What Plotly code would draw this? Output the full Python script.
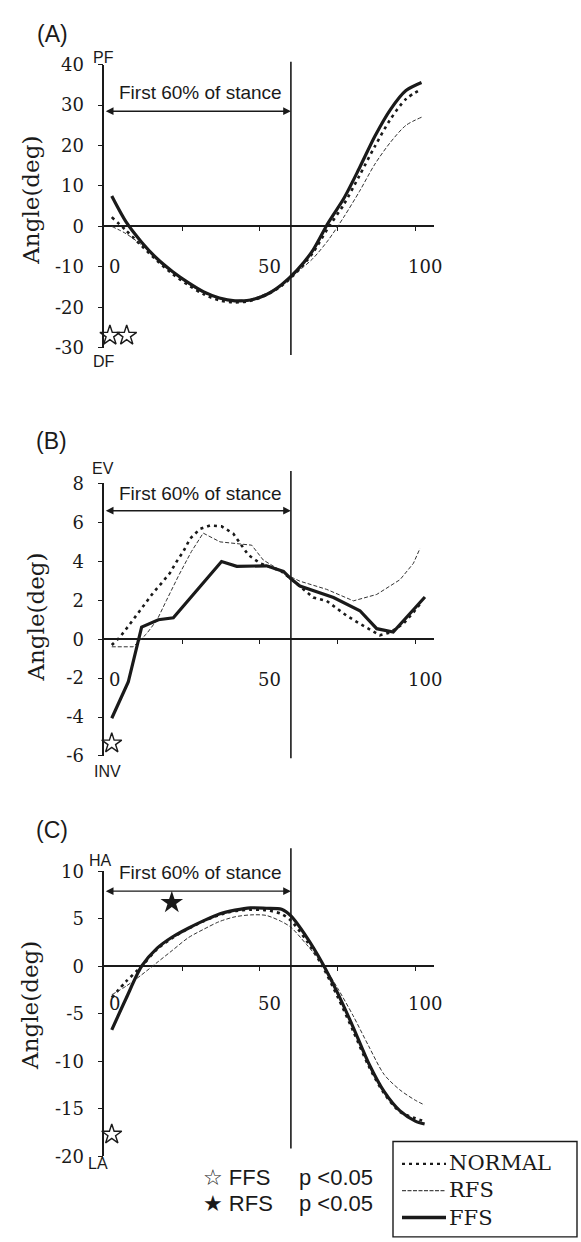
import plotly.graph_objects as go

W, H = 581, 1242

# ---------------- data ----------------
# Panel A (sagittal: PF/DF)
A_X = [2.4, 7, 12, 17, 22, 27, 32, 37, 42, 47, 52, 57, 62, 67, 72, 77, 82, 87, 92, 97, 102]
A_FFS = [7.5, 1.1, -3.9, -8.0, -11.2, -13.9, -16.2, -17.7, -18.4, -18.2, -16.9, -14.4, -10.8, -6.0, 0.9, 6.9, 14.4, 22.3, 28.9, 33.6, 35.6]
A_NORMAL = [2.3, -1.0, -4.8, -8.5, -11.8, -14.5, -16.8, -18.3, -18.8, -18.4, -17.0, -14.7, -11.2, -6.6, -0.3, 5.4, 12.5, 19.8, 26.5, 31.5, 34.0]
A_RFS = [0.0, -1.8, -4.6, -8.2, -11.4, -14.2, -16.5, -17.9, -18.3, -18.0, -16.6, -14.4, -11.3, -8.0, -3.4, 2.3, 8.6, 15.4, 20.8, 25.0, 27.0]
A_STAR_FFS_X = [1.8, 7.2]
A_STAR_FFS_Y = [-27.0, -27.0]

# Panel B (frontal: EV/INV)
B_FFS_X = [2.4, 5, 7.7, 12, 17.4, 22.2, 37.7, 42.6, 52.2, 57.6, 60, 62.9, 73.7, 82.2, 87.6, 92.9, 103.1]
B_FFS = [-4.06, -3.15, -2.2, 0.62, 1.0, 1.1, 3.99, 3.74, 3.77, 3.48, 3.1, 2.73, 2.14, 1.46, 0.54, 0.37, 2.17]
B_NORMAL_X = [2.4, 5, 8.3, 13.1, 15.8, 18.5, 21.1, 23.3, 25.4, 27.6, 30.8, 34, 37.7, 41.5, 46.3, 50.1, 56.8, 60, 67.2, 71.5, 77.9, 82.2, 88.6, 92, 96.1, 99.4, 102]
B_NORMAL = [-0.3, 0.1, 0.79, 1.8, 2.4, 2.9, 3.4, 4.0, 4.5, 5.17, 5.67, 5.84, 5.8, 5.42, 4.33, 3.9, 3.5, 3.1, 2.14, 1.97, 1.21, 0.79, 0.2, 0.35, 0.79, 1.38, 1.9]
B_RFS_X = [2.4, 9.3, 13.6, 17, 20, 24, 28, 31.8, 37.2, 43.6, 47.4, 51.1, 56, 60, 62.9, 71.5, 80.1, 87.6, 95.1, 99.4, 101.5]
B_RFS = [-0.39, -0.39, 0.28, 1.0, 2.0, 3.3, 4.5, 5.45, 5.0, 4.91, 4.83, 4.07, 3.6, 3.2, 2.98, 2.56, 1.97, 2.3, 3.06, 3.9, 4.66]
B_STAR_FFS_X = [2.4]
B_STAR_FFS_Y = [-5.35]

# Panel C (transverse: HA/LA)
C_X = [2.4, 7, 12, 17, 22, 27, 32, 37, 42, 47, 52, 57, 60, 65, 70, 75, 80, 85, 90, 95, 100, 103]
C_FFS = [-6.7, -3.4, 0.0, 1.9, 3.1, 4.0, 4.8, 5.5, 5.9, 6.15, 6.1, 6.0, 5.3, 3.1, 0.4, -2.8, -6.4, -10.2, -13.2, -15.2, -16.3, -16.6]
C_NORMAL = [-3.3, -1.6, 0.0, 1.8, 3.0, 3.95, 4.75, 5.4, 5.8, 5.95, 5.9, 5.5, 4.8, 2.7, 0.1, -3.2, -6.8, -10.5, -13.4, -15.3, -16.0, -16.3]
C_RFS = [-3.0, -2.1, -0.9, 0.4, 1.7, 3.0, 3.9, 4.7, 5.2, 5.4, 5.35, 4.7, 4.1, 2.3, 0.3, -2.3, -5.2, -8.4, -11.4, -13.0, -14.1, -14.6]
C_STAR_FFS_X = [2.4]
C_STAR_FFS_Y = [-17.7]
C_STAR_RFS_X = [21.7]
C_STAR_RFS_Y = [6.7]

Y_RANGES = [[-30, 40], [-6, 8], [-20, 10]]
Y_TICKVALS = [[-30, -20, -10, 0, 10, 20, 30, 40],
              [-6, -4, -2, 0, 2, 4, 6, 8],
              [-20, -15, -10, -5, 0, 5, 10]]
Y_TICKTEXT = [["-30", "-20", "-10", "0", "10", "20", "30", "40"],
              ["-6", "-4", "-2", "0", "2", "4", "6", "8"],
              ["-20", "-15", "-10", "-5", "0", "5", "10"]]
X_TICKS = [25, 50, 75, 100]
X_LABEL_VALS = [0, 50, 100]
X_LABEL_TEXT = ["0", "50", "100"]
PANEL_LABELS = ["(A)", "(B)", "(C)"]
TOP_LABELS = ["PF", "EV", "HA"]
BOTTOM_LABELS = ["DF", "INV", "LA"]
STANCE_TEXT = "First 60% of stance"
STANCE_END = 60
LEGEND_NAMES = ["NORMAL", "RFS", "FFS"]
SIG_KEYS = [("☆", "FFS", "p &lt;0.05"), ("★", "RFS", "p &lt;0.05")]

# ---------------- layout geometry (pixels) ----------------
def px(x):
    return x / W

def py(y):
    return 1 - y / H

X0_PX, X_PER = 104.3, 3.11
X_RANGE = [0, 106]
xdom = [px(X0_PX), px(X0_PX + X_PER * X_RANGE[1])]
ydoms = [[py(342.5), py(54.6)], [py(757.8), py(480.6)], [py(1165), py(875)]]
zero_px = [219, 639, 971.7]
vline_px = [(51.7, 350), (468, 760), (851.7, 1157)]
arrow_y = [28.5, 6.6, 7.9]
stance_text_px = [83, 491, 876]
xlabel_y = [-10, -2.07, -3.96]
title_px = [(31, 193), (36, 617), (30, 1012)]
panel_px = [(52, 23), (51, 437), (52, 833)]
top_px = [(103, 47), (103, 465), (100, 864)]
bot_px = [(104, 357), (107, 774), (98, 1172)]

INK = "#1a1a1a"
SERIF = "DejaVu Serif"
SANS = "Liberation Sans"

fig = go.Figure()

panels = [
    [(A_X, A_NORMAL), (A_X, A_RFS), (A_X, A_FFS), "spline"],
    [(B_NORMAL_X, B_NORMAL), (B_RFS_X, B_RFS), (B_FFS_X, B_FFS), "linear"],
    [(C_X, C_NORMAL), (C_X, C_RFS), (C_X, C_FFS), "spline"],
]
open_stars = [(A_STAR_FFS_X, A_STAR_FFS_Y), (B_STAR_FFS_X, B_STAR_FFS_Y), (C_STAR_FFS_X, C_STAR_FFS_Y)]

annotations = []
shapes = []

for i, (nrm, rfs, ffs, shape) in enumerate(panels):
    n = i + 1
    xa = "x" if n == 1 else f"x{n}"
    ya = "y" if n == 1 else f"y{n}"
    fig.add_trace(go.Scatter(x=nrm[0], y=nrm[1], mode="lines", xaxis=xa, yaxis=ya,
                             line=dict(color=INK, width=2.6, dash="3px,4px", shape=shape, smoothing=0.8),
                             showlegend=False))
    fig.add_trace(go.Scatter(x=rfs[0], y=rfs[1], mode="lines", xaxis=xa, yaxis=ya,
                             line=dict(color="#333333", width=1.0, dash="4px,2px", shape=shape, smoothing=0.8),
                             showlegend=False))
    fig.add_trace(go.Scatter(x=ffs[0], y=ffs[1], mode="lines", xaxis=xa, yaxis=ya,
                             line=dict(color=INK, width=3.2, shape=shape, smoothing=0.8),
                             showlegend=False))
    sx, sy = open_stars[i]
    fig.add_trace(go.Scatter(x=sx, y=sy, mode="markers", xaxis=xa, yaxis=ya, cliponaxis=False,
                             marker=dict(symbol="star-open", size=15, color=INK, line=dict(width=1.4, color=INK)),
                             showlegend=False))
    if n == 3:
        fig.add_trace(go.Scatter(x=C_STAR_RFS_X, y=C_STAR_RFS_Y, mode="markers", xaxis=xa, yaxis=ya,
                                 cliponaxis=False,
                                 marker=dict(symbol="star", size=17, color=INK),
                                 showlegend=False))

    xkey = "xaxis" if n == 1 else f"xaxis{n}"
    ykey = "yaxis" if n == 1 else f"yaxis{n}"
    fig.update_layout(**{
        xkey: dict(domain=xdom, range=X_RANGE, anchor="free", position=py(zero_px[i]),
                   tickvals=X_TICKS, ticks="outside", ticklen=4, tickcolor=INK,
                   showticklabels=False, showline=False, showgrid=False, zeroline=False),
        ykey: dict(domain=ydoms[i], range=Y_RANGES[i], anchor=xa,
                   tickvals=Y_TICKVALS[i], ticktext=Y_TICKTEXT[i],
                   ticks="outside", ticklen=5, tickwidth=1.3, tickcolor=INK,
                   showline=True, linecolor=INK, linewidth=1.6,
                   zeroline=True, zerolinecolor=INK, zerolinewidth=1.6,
                   showgrid=False, ticklabelstandoff=10,
                   tickfont=dict(family=SERIF, size=18, color=INK)),
    })

    # vertical line at 60%
    shapes.append(dict(type="line", xref=xa, yref="paper", x0=STANCE_END, x1=STANCE_END,
                       y0=py(vline_px[i][1]), y1=py(vline_px[i][0]),
                       line=dict(color=INK, width=1.6)))
    # double arrow
    annotations.append(dict(x=STANCE_END, y=arrow_y[i], ax=0, ay=arrow_y[i], xref=xa, yref=ya,
                            axref=xa, ayref=ya, text="", showarrow=True, arrowhead=2,
                            arrowside="end+start", arrowsize=1.1, arrowwidth=1.4, arrowcolor=INK,
                            standoff=0, startstandoff=0))
    annotations.append(dict(x=px(200), y=py(stance_text_px[i]), xref="paper", yref="paper",
                            text=STANCE_TEXT, showarrow=False, xanchor="center", yanchor="middle",
                            font=dict(family=SANS, size=19, color=INK)))
    # x tick labels
    for v, t in zip(X_LABEL_VALS, X_LABEL_TEXT):
        annotations.append(dict(x=v, y=xlabel_y[i], xref=xa, yref=ya, text=t, showarrow=False,
                                xanchor="center", yanchor="middle", xshift=10,
                                font=dict(family=SERIF, size=18, color=INK)))
    # axis title
    annotations.append(dict(x=px(title_px[i][0]), y=py(title_px[i][1]), xref="paper", yref="paper",
                            text="Angle(deg)", textangle=-90, showarrow=False,
                            xanchor="center", yanchor="middle",
                            font=dict(family=SERIF, size=23, color=INK)))
    annotations.append(dict(x=px(panel_px[i][0]), y=py(panel_px[i][1]), xref="paper", yref="paper",
                            text=PANEL_LABELS[i], showarrow=False, xanchor="center", yanchor="middle",
                            font=dict(family=SANS, size=23, color=INK)))
    annotations.append(dict(x=px(top_px[i][0]), y=py(top_px[i][1]), xref="paper", yref="paper",
                            text=TOP_LABELS[i], showarrow=False, xanchor="center", yanchor="middle",
                            font=dict(family=SANS, size=16, color=INK)))
    annotations.append(dict(x=px(bot_px[i][0]), y=py(bot_px[i][1]), xref="paper", yref="paper",
                            text=BOTTOM_LABELS[i], showarrow=False, xanchor="center", yanchor="middle",
                            font=dict(family=SANS, size=16, color=INK)))

# ---------------- significance key ----------------
for (sym, name, ptxt), yc in zip(SIG_KEYS, [1187, 1213]):
    annotations.append(dict(x=px(201), y=py(yc), xref="paper", yref="paper",
                            text=f"{sym} {name}",
                            showarrow=False, xanchor="left", yanchor="middle",
                            font=dict(family="Liberation Sans, DejaVu Sans", size=22, color=INK)))
    annotations.append(dict(x=px(297), y=py(yc), xref="paper", yref="paper", text=ptxt,
                            showarrow=False, xanchor="left", yanchor="middle",
                            font=dict(family=SANS, size=22, color=INK)))

# ---------------- line legend box ----------------
shapes.append(dict(type="rect", xref="paper", yref="paper", x0=px(393), x1=px(577),
                   y0=py(1247), y1=py(1150), line=dict(color=INK, width=1.4)))
LEG_FONT = 21
legend_rows_px = [1200 - 1.3 * LEG_FONT, 1200, 1200 + 1.3 * LEG_FONT]
legend_styles = [dict(width=2.4, dash="3px,4px"), dict(width=1.0, dash="4px,1.5px"), dict(width=3.4)]
for yc, st in zip(legend_rows_px, legend_styles):
    shapes.append(dict(type="line", xref="paper", yref="paper", x0=px(402), x1=px(446),
                       y0=py(yc), y1=py(yc), line=dict(color=INK, **st)))
annotations.append(dict(x=px(447), y=py(1200), xref="paper", yref="paper",
                        text="<br>".join(LEGEND_NAMES), align="left",
                        showarrow=False, xanchor="left", yanchor="middle",
                        font=dict(family=SERIF, size=LEG_FONT, color=INK)))

fig.update_layout(width=W, height=H, margin=dict(l=0, r=0, t=0, b=0),
                  paper_bgcolor="white", plot_bgcolor="rgba(0,0,0,0)",
                  showlegend=False, shapes=shapes, annotations=annotations)

fig.write_html("out.html", config={"displayModeBar": False},
               post_script="document.body.style.margin='0';document.body.style.padding='0';")
